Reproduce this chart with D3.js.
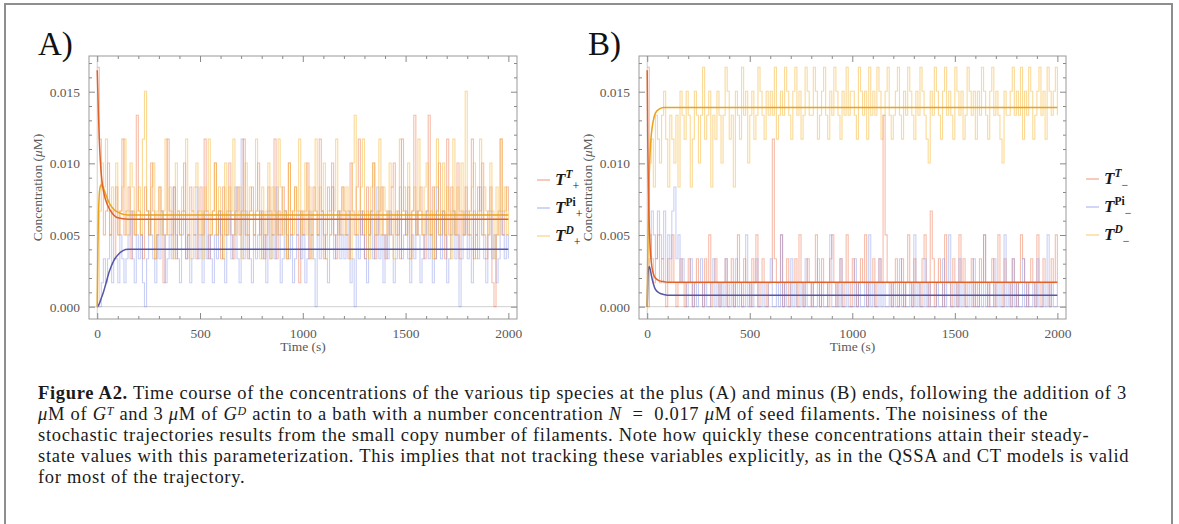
<!DOCTYPE html>
<html>
<head>
<meta charset="utf-8">
<script src="https://d3js.org/d3.v7.min.js"></script>
<style>
  body { margin: 0; background: #fff; }
  svg { display: block; font-family: "Liberation Serif", "DejaVu Serif", serif; }
</style>
</head>
<body>
<script>
// ---- data -------------------------------------------------------------
const sampleStep = 10;          // seconds between samples of the stochastic runs
const tipUnit = 0.0167 / 10;    // uM carried by one filament tip (counts below)

const xMajorTicks = [0, 500, 1000, 1500, 2000];
const yMajorTicks = [0, 0.005, 0.010, 0.015];

const odeTimes = [0, 3, 6, 10, 15, 20, 30, 40, 60, 80, 100, 150, 2000];
const plusT  = [0.0165, 0.0150, 0.0134, 0.0117, 0.0102, 0.0092, 0.0081, 0.0075, 0.0068, 0.0064, 0.0062, 0.0061, 0.0061];
const plusPi = [0, 0.00002, 0.0001, 0.0002, 0.0004, 0.0006, 0.0010, 0.0015, 0.0025, 0.0032, 0.0036, 0.0040, 0.0040];
const plusD  = [0, 0.0040, 0.0064, 0.0078, 0.0084, 0.0085, 0.0083, 0.0079, 0.0072, 0.0068, 0.0066, 0.0064, 0.0064];
const minusT  = [0.0165, 0.0112, 0.0080, 0.0056, 0.0040, 0.0031, 0.0023, 0.0020, 0.0018, 0.00175, 0.0017, 0.0017, 0.0017];
const minusPi = [0, 0.0019, 0.0026, 0.0028, 0.0026, 0.0022, 0.0016, 0.0012, 0.00095, 0.00085, 0.0008, 0.0008, 0.0008];
const minusD  = [0, 0.0038, 0.0068, 0.0093, 0.0110, 0.0120, 0.0130, 0.0135, 0.0138, 0.0139, 0.0139, 0.0139, 0.0139];

// stochastic runs: number of tips in each state, one sample every 10 s (0..2000 s)
const plusTCounts = [
  10,7,5,3,4,6,3,4,2,5,3,4,7,3,4,5,2,4,3,8,
  4,3,2,5,4,3,6,4,2,3,5,4,1,3,7,4,3,5,2,4,
  3,4,6,2,3,5,4,3,2,4,5,3,7,4,2,3,4,6,3,4,
  2,5,3,4,6,3,2,4,5,3,4,7,3,2,4,5,3,4,6,3,
  4,2,3,5,4,3,7,2,4,3,5,4,2,6,3,4,5,3,1,4,
  3,4,6,2,3,5,4,3,7,4,2,3,5,4,6,3,2,4,3,5,
  4,3,2,6,4,3,5,7,3,4,2,5,3,4,6,2,3,4,5,3,
  2,4,3,5,6,3,4,2,7,4,3,5,2,4,8,3,4,5,3,2,
  4,8,3,5,2,4,6,3,4,2,7,3,5,4,3,6,2,4,3,5,
  3,4,7,2,3,5,4,6,3,2,4,5,1,0,3,4,7,3,4,5,
  4];
const plusPiCounts = [
  0,0,1,2,1,2,3,1,2,2,1,3,2,1,2,3,4,2,1,3,
  2,3,1,0,2,4,3,2,1,3,2,4,3,1,2,3,2,5,3,2,
  1,3,4,2,3,1,2,3,5,2,3,1,4,2,3,2,1,3,2,4,
  3,2,1,3,4,2,3,5,2,1,7,2,4,3,2,1,3,2,3,4,
  2,3,1,4,2,3,2,5,3,1,2,4,3,2,3,1,2,3,4,2,
  3,1,2,4,3,2,0,3,2,4,3,2,1,3,5,2,3,4,2,3,
  2,3,4,1,2,0,3,2,4,3,2,1,3,4,2,3,5,2,3,1,
  3,2,4,3,1,2,3,5,2,3,4,2,1,3,2,4,3,1,2,3,
  4,2,3,1,2,5,3,2,4,3,1,2,3,4,2,3,0,2,3,4,
  2,3,1,4,3,2,5,3,2,1,3,4,2,3,1,2,4,3,2,3,
  2];
const plusDCounts = [
  0,4,6,5,7,4,3,5,4,6,3,4,5,7,3,4,6,5,3,4,
  5,3,7,9,4,3,5,6,2,4,5,3,4,7,3,5,4,2,6,4,
  3,5,4,7,3,2,4,5,6,3,4,2,5,4,7,3,4,6,3,5,
  4,2,6,3,5,4,7,3,4,5,2,4,6,3,5,4,3,7,4,2,
  5,3,4,6,2,5,4,3,7,5,3,4,2,6,4,3,5,4,7,3,
  4,6,3,5,2,4,7,3,5,4,6,2,4,3,5,4,7,3,4,5,
  3,5,4,2,6,8,3,4,5,7,3,4,2,5,6,3,4,7,3,5,
  4,3,6,5,2,4,3,7,4,5,3,6,2,4,5,3,7,4,3,5,
  6,3,4,2,5,7,3,4,6,3,5,4,2,7,3,5,4,6,3,9,
  4,3,5,6,2,4,7,3,5,4,3,6,4,2,5,3,7,4,5,3,
  4];
const minusTCounts = [
  10,3,2,1,2,3,1,2,1,0,2,1,3,1,0,1,2,1,0,1,
  2,1,0,1,2,1,1,0,2,1,3,0,1,2,1,0,1,1,2,0,
  1,2,0,1,3,1,0,2,1,1,0,2,1,3,0,1,2,1,0,1,
  1,7,2,1,1,3,0,1,2,0,1,1,2,0,3,1,0,1,2,1,
  0,1,3,1,0,2,1,1,0,2,3,1,0,1,2,0,1,3,1,0,
  2,1,0,1,2,1,3,0,1,1,2,0,1,2,1,8,3,1,1,0,
  1,2,0,1,2,0,1,3,1,0,2,1,1,0,2,3,1,0,4,2,
  0,1,2,1,0,3,1,1,0,2,1,0,3,1,2,0,1,1,2,0,
  1,0,2,1,3,1,0,1,2,0,1,3,1,0,2,1,1,0,2,1,
  0,1,3,2,1,0,1,2,1,0,3,1,0,2,1,1,0,2,1,3,
  1];
const minusPiCounts = [
  0,2,4,3,2,4,3,2,4,1,3,2,4,5,2,3,1,2,1,0,
  1,2,0,1,0,1,2,0,1,0,0,1,2,0,1,0,1,0,2,0,
  0,1,0,2,0,1,0,0,3,0,1,0,1,2,0,0,1,0,0,1,
  2,0,0,1,0,3,0,1,0,0,2,0,1,0,0,1,0,2,0,0,
  1,0,0,2,0,1,0,0,1,3,0,0,1,0,2,0,0,1,0,0,
  0,2,0,1,0,0,1,0,3,0,1,0,0,2,0,1,0,0,1,0,
  1,0,0,2,0,1,0,0,1,0,3,0,1,0,0,2,0,1,0,0,
  0,1,0,0,2,0,1,3,0,0,1,0,2,0,1,0,0,1,0,2,
  0,0,1,0,3,0,1,0,0,2,0,1,0,0,3,0,1,0,2,0,
  1,0,0,2,0,1,0,0,1,0,2,0,0,1,0,3,0,1,0,0,
  1];
const minusDCounts = [
  0,6,7,5,8,7,6,8,9,7,5,8,7,6,8,5,9,8,7,9,
  8,5,7,9,8,6,8,10,7,8,9,5,8,7,9,8,6,8,10,9,
  7,8,5,9,8,7,10,8,9,6,8,9,7,8,10,9,8,7,9,8,
  9,8,10,7,8,9,8,10,9,8,7,9,10,8,9,7,8,10,9,8,
  8,10,9,7,8,9,10,8,7,9,8,10,9,8,7,9,8,10,8,9,
  9,8,7,10,9,8,9,7,10,8,9,8,10,9,7,8,9,10,8,7,
  8,9,10,8,7,9,8,10,9,8,7,9,8,10,9,8,7,6,9,8,
  10,9,8,7,9,10,8,9,8,7,10,9,8,9,7,8,10,9,8,9,
  7,9,8,10,9,8,7,9,10,8,9,8,7,6,9,8,8,9,10,8,
  9,8,10,7,9,8,10,9,7,8,9,10,8,9,7,10,9,8,9,10,
  8];

// ---- styles -----------------------------------------------------------
const noiseColor  = { T: "#ee6d45", Pi: "#8090e8", D: "#f7b530" };
const noiseAlpha  = { T: 0.45, Pi: 0.42, D: 0.5 };
const curveColor  = { T: "#e0622a", Pi: "#5656a8", D: "#e9a21a" };

const svg = d3.select("body").append("svg")
  .attr("width", 1179).attr("height", 524);

// outer figure box
svg.append("rect")
  .attr("x", 5).attr("y", 4).attr("width", 1167).attr("height", 530)
  .attr("fill", "none").attr("stroke", "#8e8e8e").attr("stroke-width", 2);

function toSeries(counts) {
  return counts.map((c, i) => ({ t: i * sampleStep, v: c * tipUnit }));
}
function odeSeries(vals) {
  return odeTimes.map((t, i) => ({ t: t, v: vals[i] }));
}

function drawPanel(cfg) {
  const x = d3.scaleLinear().domain([-40, 2042]).range([cfg.left, cfg.right]);
  const y = d3.scaleLinear().domain([-0.00086, 0.01749]).range([cfg.bottom, cfg.top]);
  const g = svg.append("g");

  const clipId = "clip" + cfg.name;
  svg.append("clipPath").attr("id", clipId)
    .append("rect")
    .attr("x", cfg.left).attr("y", cfg.top)
    .attr("width", cfg.right - cfg.left).attr("height", cfg.bottom - cfg.top);

  const plot = g.append("g").attr("clip-path", "url(#" + clipId + ")");

  // zero axes
  plot.append("line")
    .attr("x1", cfg.left).attr("x2", cfg.right)
    .attr("y1", y(0)).attr("y2", y(0))
    .attr("stroke", "#d0d0d0");
  plot.append("line")
    .attr("x1", x(0)).attr("x2", x(0))
    .attr("y1", cfg.top).attr("y2", cfg.bottom)
    .attr("stroke", "#d0d0d0");

  const stepLine = d3.line().x(d => x(d.t)).y(d => y(d.v)).curve(d3.curveStepAfter);
  const smooth = d3.line().x(d => x(d.t)).y(d => y(d.v)).curve(d3.curveMonotoneX);

  ["T", "Pi", "D"].forEach(k => {
    plot.append("path")
      .datum(toSeries(cfg.noise[k]))
      .attr("d", stepLine)
      .attr("fill", "none")
      .attr("stroke", noiseColor[k])
      .attr("stroke-opacity", noiseAlpha[k])
      .attr("stroke-width", 1.1);
  });
  ["Pi", "D", "T"].forEach(k => {
    plot.append("path")
      .datum(odeSeries(cfg.ode[k]))
      .attr("d", smooth)
      .attr("fill", "none")
      .attr("stroke", curveColor[k])
      .attr("stroke-width", 1.5);
  });

  // frame
  g.append("rect")
    .attr("x", cfg.left).attr("y", cfg.top)
    .attr("width", cfg.right - cfg.left).attr("height", cfg.bottom - cfg.top)
    .attr("fill", "none").attr("stroke", "#9a9a9a");

  const xMinor = d3.range(0, 2001, 100).filter(v => v % 500 !== 0);
  const yMinor = d3.range(1, 18).map(v => v / 1000).filter(v => Math.round(v * 1000) % 5 !== 0);

  function styleAxis(sel) {
    sel.attr("font-family", null).attr("font-size", null);
    sel.select(".domain").remove();
    sel.selectAll(".tick line").attr("stroke", "#8a8a8a");
    sel.selectAll(".tick text").attr("fill", "#5a5a5a").attr("font-size", 13.5);
  }

  // bottom
  g.append("g").attr("transform", `translate(0,${cfg.bottom})`)
    .call(d3.axisBottom(x).tickValues(xMajorTicks).tickSize(-6).tickPadding(9).tickFormat(d3.format("d")))
    .call(styleAxis);
  g.append("g").attr("transform", `translate(0,${cfg.bottom})`)
    .call(d3.axisBottom(x).tickValues(xMinor).tickSize(-3).tickFormat(""))
    .call(styleAxis);
  // top
  g.append("g").attr("transform", `translate(0,${cfg.top})`)
    .call(d3.axisTop(x).tickValues(xMajorTicks).tickSize(-6).tickFormat(""))
    .call(styleAxis);
  g.append("g").attr("transform", `translate(0,${cfg.top})`)
    .call(d3.axisTop(x).tickValues(xMinor).tickSize(-3).tickFormat(""))
    .call(styleAxis);
  // left
  g.append("g").attr("transform", `translate(${cfg.left},0)`)
    .call(d3.axisLeft(y).tickValues(yMajorTicks).tickSize(-6).tickPadding(9).tickFormat(d3.format(".3f")))
    .call(styleAxis);
  g.append("g").attr("transform", `translate(${cfg.left},0)`)
    .call(d3.axisLeft(y).tickValues(yMinor).tickSize(-3).tickFormat(""))
    .call(styleAxis);
  // right
  g.append("g").attr("transform", `translate(${cfg.right},0)`)
    .call(d3.axisRight(y).tickValues(yMajorTicks).tickSize(-6).tickFormat(""))
    .call(styleAxis);
  g.append("g").attr("transform", `translate(${cfg.right},0)`)
    .call(d3.axisRight(y).tickValues(yMinor).tickSize(-3).tickFormat(""))
    .call(styleAxis);

  // axis titles
  g.append("text")
    .attr("x", (cfg.left + cfg.right) / 2).attr("y", cfg.bottom + 32)
    .attr("text-anchor", "middle").attr("font-size", 13.5).attr("fill", "#5a5a5a")
    .text("Time (s)");
  const yl = g.append("text")
    .attr("transform", `translate(${cfg.left - 47},${(cfg.top + cfg.bottom) / 2}) rotate(-90)`)
    .attr("text-anchor", "middle").attr("font-size", 13.5).attr("fill", "#5a5a5a");
  yl.append("tspan").text("Concentration (");
  yl.append("tspan").attr("font-style", "italic").text("\u03bc");
  yl.append("tspan").text("M)");

  // panel letter
  g.append("text")
    .attr("x", cfg.letterX).attr("y", 55)
    .attr("font-size", 33).attr("fill", "#111")
    .text(cfg.letter);

  // legend
  const legendRows = [
    { k: "T", sup: "T", supItalic: true },
    { k: "Pi", sup: "Pi", supItalic: false },
    { k: "D", sup: "D", supItalic: true }
  ];
  legendRows.forEach((r, i) => {
    const ly = cfg.legendY + i * 28;
    g.append("line")
      .attr("x1", cfg.legendX).attr("x2", cfg.legendX + 13)
      .attr("y1", ly).attr("y2", ly)
      .attr("stroke", noiseColor[r.k]).attr("stroke-opacity", 0.6).attr("stroke-width", 1.2);
    const t = g.append("text")
      .attr("x", cfg.legendX + 18).attr("y", ly + 5)
      .attr("fill", "#1a1a1a");
    t.append("tspan").attr("font-size", 17).attr("font-weight", "bold").attr("font-style", "italic").text("T");
    t.append("tspan").attr("font-size", 11.5).attr("dy", -7).attr("font-weight", "bold")
      .attr("font-style", r.supItalic ? "italic" : "normal").text(r.sup);
    t.append("tspan").attr("font-size", 12).attr("dy", 12).text(cfg.sign);
  });
}

drawPanel({
  name: "A", letter: "A)", letterX: 38, sign: "+",
  left: 89, right: 517, top: 56, bottom: 319,
  legendX: 537, legendY: 180,
  noise: { T: plusTCounts, Pi: plusPiCounts, D: plusDCounts },
  ode: { T: plusT, Pi: plusPi, D: plusD }
});
drawPanel({
  name: "B", letter: "B)", letterX: 588, sign: "\u2212",
  left: 639, right: 1066, top: 56, bottom: 319,
  legendX: 1086, legendY: 179,
  noise: { T: minusTCounts, Pi: minusPiCounts, D: minusDCounts },
  ode: { T: minusT, Pi: minusPi, D: minusD }
});

// ---- caption ------------------------------------------------------------
const captionLines = [
  [["Figure A2.", "b"], [" Time course of the concentrations of the various tip species at the plus (A) and minus (B) ends, following the addition of 3"]],
  [["\u03bc", "i"], ["M of "], ["G", "i"], ["T", "isup"], [" and 3 "], ["\u03bc", "i"], ["M of "], ["G", "i"], ["D", "isup"],
   [" actin to a bath with a number concentration "], ["N", "i"], ["  =  0.017 "], ["\u03bc", "i"], ["M of seed filaments. The noisiness of the"]],
  [["stochastic trajectories results from the small copy number of filaments. Note how quickly these concentrations attain their steady-"]],
  [["state values with this parameterization. This implies that not tracking these variables explicitly, as in the QSSA and CT models is valid"]],
  [["for most of the trajectory."]]
];

captionLines.forEach((parts, i) => {
  const t = svg.append("text")
    .attr("x", 38).attr("y", 399 + i * 21)
    .attr("font-size", 18.5).attr("letter-spacing", 0.7)
    .attr("xml:space", "preserve").style("white-space", "pre")
    .attr("fill", "#1a1a1a");
  let raised = false;
  parts.forEach(p => {
    const style = p[1] || "";
    const s = t.append("tspan").text(p[0]);
    if (style === "b") s.attr("font-weight", "bold");
    if (style.indexOf("i") === 0) s.attr("font-style", "italic");
    if (style === "isup") {
      s.attr("dy", -5).attr("font-size", 12);
      raised = true;
    } else if (raised) {
      s.attr("dy", 5);
      raised = false;
    }
  });
});
</script>
</body>
</html>
